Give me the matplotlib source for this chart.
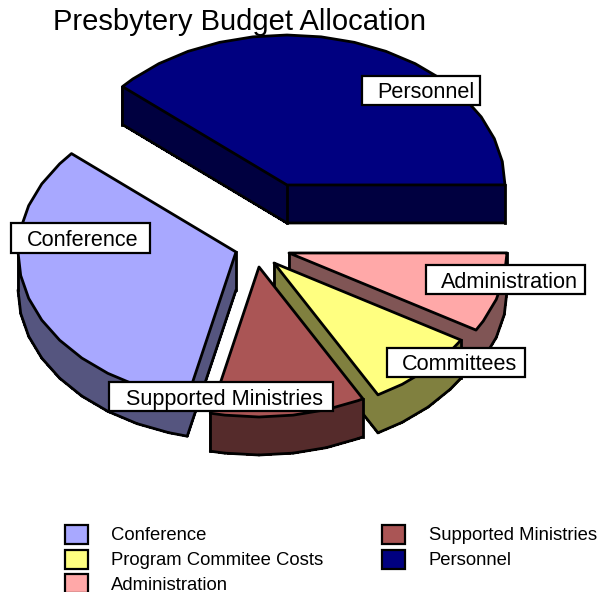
import numpy as np
import matplotlib
matplotlib.use("Agg")
import matplotlib.pyplot as plt
from matplotlib.patches import Polygon, Rectangle

plt.rcParams['font.family'] = ['Liberation Sans', 'DejaVu Sans']

# share of budget, percent, counter-clockwise from the start angle
categories = ["Conference", "Supported Ministries", "Program Commitee Costs", "Administration", "Personnel"]
shares = [32.8, 11.5, 8.5, 8.6, 38.6]
legend_left = ["Conference", "Program Commitee Costs", "Administration"]
legend_right = ["Supported Ministries", "Personnel"]

colors = {"Conference": "#A8A8FF", "Supported Ministries": "#AA5555",
          "Program Commitee Costs": "#FFFF80", "Administration": "#FFA8A8", "Personnel": "#000080"}
side_colors = {"Conference": "#55557F", "Supported Ministries": "#552B2B",
               "Program Commitee Costs": "#80803F", "Administration": "#805555", "Personnel": "#000040"}

# layout, in pixels
START_ANGLE = 139
CENTER = (262, 240)
RX, RY = 218, 150
DEPTH = 38
STEP = 9
# how far each slice is pulled out of the pie
explode = {"Conference": (-26, 12), "Supported Ministries": (-3, 27),
           "Program Commitee Costs": (12, 23), "Administration": (27, 13), "Personnel": (25, -55)}
label_boxes = {"Conference": (11, 223, 139, 30), "Supported Ministries": (109, 382, 224, 29),
               "Committees": (387, 348, 138, 29), "Administration": (426, 265, 159, 29),
               "Personnel": (362, 76, 118, 29)}
label_text_x = {"Conference": 27, "Supported Ministries": 126, "Committees": 402,
                "Administration": 441, "Personnel": 377}
draw_order = ["Personnel", "Administration", "Conference", "Program Commitee Costs", "Supported Ministries"]


def wedge_points(name, a0, a1):
    dx, dy = explode[name]
    cx, cy = CENTER[0] + dx, CENTER[1] + dy
    inner = np.arange(np.ceil(a0 / STEP) * STEP, a1, STEP)
    angles = np.radians(np.concatenate([[a0], inner, [a1]]))
    pts = [(cx, cy)]
    pts += [(cx + RX * np.cos(t), cy - RY * np.sin(t)) for t in angles]
    return pts


fig = plt.figure(figsize=(6, 5.92), dpi=100)
ax = fig.add_axes([0, 0, 1, 1])
ax.set_xlim(0, 600)
ax.set_ylim(592, 0)
ax.axis('off')

edges = np.cumsum([0] + shares) / 100 * 360 + START_ANGLE
wedges = {c: wedge_points(c, edges[i], edges[i + 1]) for i, c in enumerate(categories)}

z = 1
for name in draw_order:
    pts = wedges[name]
    # side walls, only the ones facing the viewer
    n = len(pts)
    walls = []
    for i in range(n):
        p, q = pts[i], pts[(i + 1) % n]
        if q[0] - p[0] > 1e-6:
            walls.append((p, q))
    for p, q in walls:
        quad = [p, q, (q[0], q[1] + DEPTH), (p[0], p[1] + DEPTH)]
        ax.add_patch(Polygon(quad, closed=True, fc=side_colors[name], ec=side_colors[name], lw=1,
                             antialiased=False, zorder=z))
    for p, q in walls:
        ax.plot([p[0], q[0]], [p[1] + DEPTH, q[1] + DEPTH], color='black', lw=2, zorder=z + 0.1,
                solid_capstyle='round')
    # vertical corners of the walls
    for p in {w[0] for w in walls} | {w[1] for w in walls}:
        is_start = any(w[0] == p for w in walls)
        is_end = any(w[1] == p for w in walls)
        if is_start != is_end or p == pts[0]:
            ax.plot([p[0], p[0]], [p[1], p[1] + DEPTH], color='black', lw=2, zorder=z + 0.1)
    ax.add_patch(Polygon(pts, closed=True, fc=colors[name], ec='black', lw=2, joinstyle='round', zorder=z + 0.2))
    z += 1

for name, (x, y, w, h) in label_boxes.items():
    ax.add_patch(Rectangle((x, y), w, h, fc='white', ec='black', lw=1.6, zorder=20))
    ax.text(label_text_x[name], y + h / 2, name, fontsize=15.6, ha='left', va='center_baseline',
            color='black', zorder=21)

ax.text(53, 19, "Presbytery Budget Allocation", fontsize=21, ha='left', va='center_baseline', color='black')

for names, sx, tx in [(legend_left, 65, 111), (legend_right, 382, 429)]:
    for i, name in enumerate(names):
        y = 525 + i * 24.5
        ax.add_patch(Rectangle((sx, y), 23, 19, fc=colors[name], ec='black', lw=1.6, clip_on=True))
        ax.text(tx, y + 9, name, fontsize=13.3, ha='left', va='center_baseline', color='black')

fig.savefig("out.png", dpi=100, facecolor='white')
